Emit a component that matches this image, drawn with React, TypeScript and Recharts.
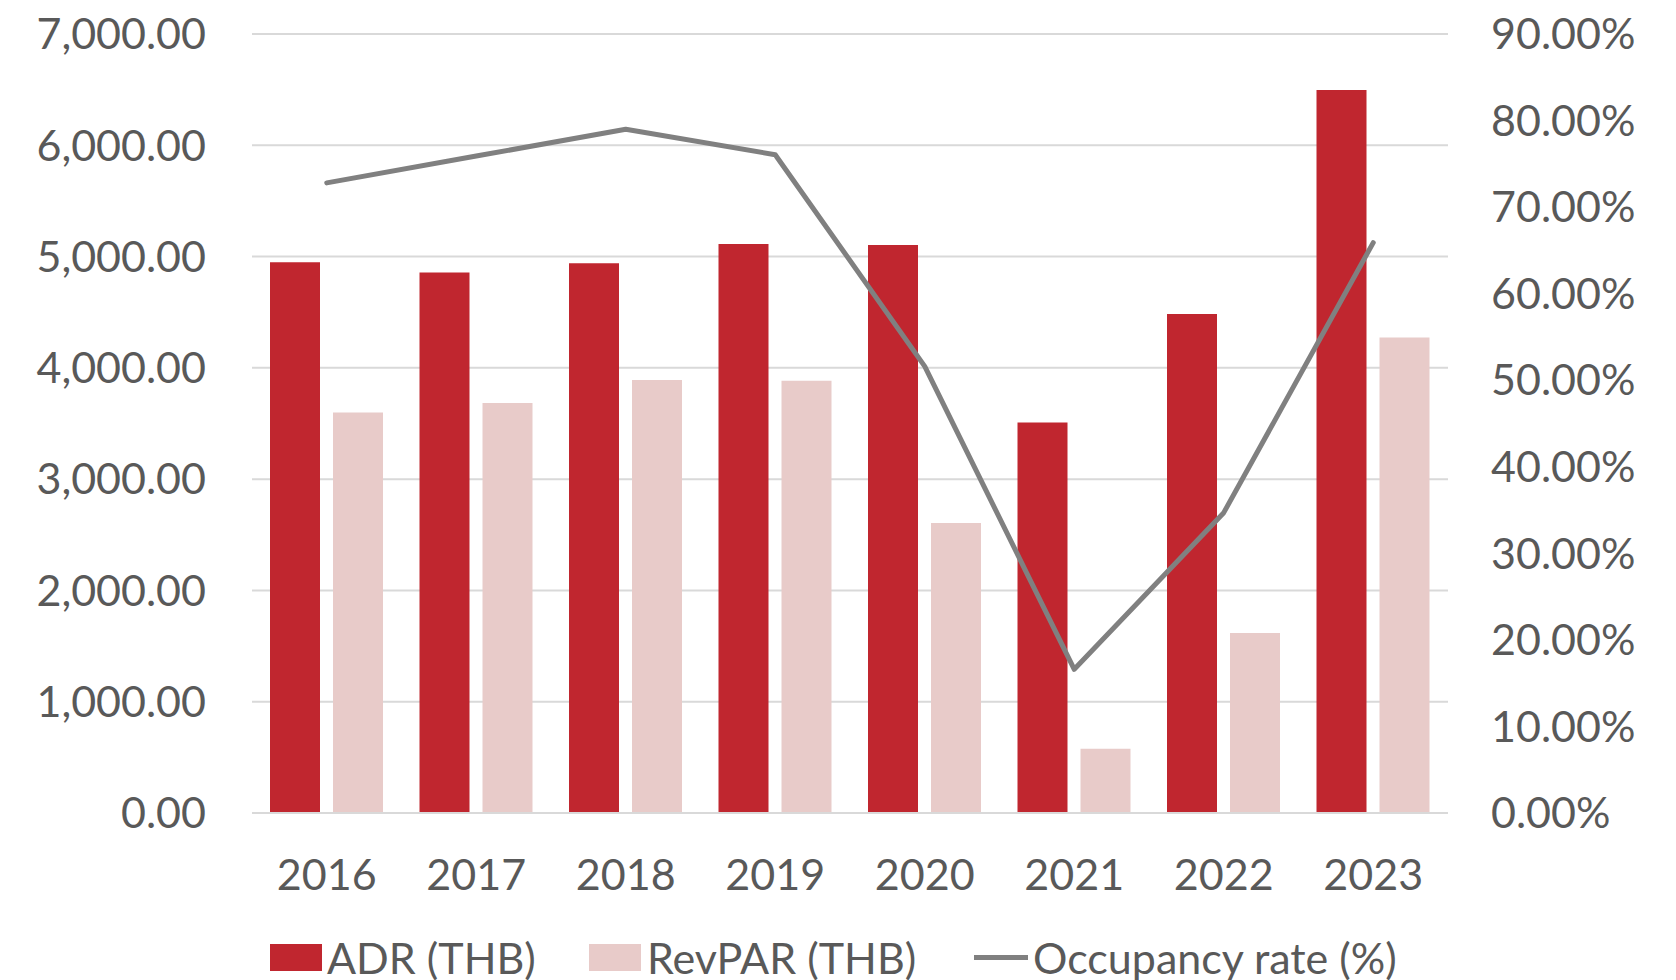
import React from "react";
import { ComposedChart, Bar, Line, XAxis, YAxis, CartesianGrid } from "recharts";

const years = ["2016", "2017", "2018", "2019", "2020", "2021", "2022", "2023"];
const adr = [4950, 4857, 4941, 5112, 5103, 3509, 4483, 6496];
const revpar = [3599, 3684, 3890, 3884, 2606, 578, 1617, 4273];
const occupancy = [72.8, 75.9, 79.0, 76.05, 51.6, 16.6, 34.7, 65.9];
const leftTicks = [0, 1000, 2000, 3000, 4000, 5000, 6000, 7000];
const rightTicks = [0, 10, 20, 30, 40, 50, 60, 70, 80, 90];

const data = years.map((y, i) => ({ year: y, adr: adr[i], revpar: revpar[i], occ: occupancy[i] }));

const FONT = "Lato, 'Open Sans', sans-serif";
const FS = 43;
const TXT = "#595959";
const RED = "#C0262F";
const PINK = "#E8CBC9";
const GREY = "#808080";
const GRID = "#D9D9D9";

const fmtLeft = (v: number) =>
  v.toLocaleString("en-US", { minimumFractionDigits: 2, maximumFractionDigits: 2 });
const fmtRight = (v: number) => `${v.toFixed(2)}%`;

const tickStyle = { fontFamily: FONT, fontSize: FS, fill: TXT };

function LegendOverlay() {
  const txt: React.CSSProperties = {
    position: "absolute",
    top: 957,
    transform: "translateY(-50%)",
    fontFamily: FONT,
    fontSize: FS,
    color: TXT,
    whiteSpace: "nowrap",
    lineHeight: 1,
  };
  return (
    <>
      <div style={{ position: "absolute", left: 270, top: 944, width: 52, height: 27, background: RED }} />
      <div style={{ ...txt, left: 327 }}>ADR (THB)</div>
      <div style={{ position: "absolute", left: 589, top: 944, width: 52, height: 27, background: PINK }} />
      <div style={{ ...txt, left: 647 }}>RevPAR (THB)</div>
      <div style={{ position: "absolute", left: 974, top: 955, width: 54, height: 5, background: GREY }} />
      <div style={{ ...txt, left: 1033 }}>Occupancy rate (%)</div>
    </>
  );
}

export default function App() {
  return (
    <div style={{ position: "absolute", left: 0, top: 0, width: 1676, height: 980, background: "#fff" }}>
      <ComposedChart
        width={1676}
        height={980}
        data={data}
        margin={{ top: 34, right: 0, bottom: 107, left: 0 }}
        barCategoryGap={18}
        barGap={13}
      >
        <CartesianGrid vertical={false} stroke={GRID} strokeWidth={2} yAxisId="left" />
        <XAxis
          dataKey="year"
          tickLine={false}
          axisLine={{ stroke: GRID, strokeWidth: 2 }}
          tick={tickStyle}
          tickSize={0}
          tickMargin={46}
          height={60}
        />
        <YAxis
          yAxisId="left"
          orientation="left"
          domain={[0, 7000]}
          ticks={leftTicks}
          tickFormatter={fmtLeft}
          axisLine={false}
          tickLine={false}
          tickSize={0}
          tickMargin={46}
          width={252}
          tick={tickStyle}
          interval={0}
        />
        <YAxis
          yAxisId="right"
          orientation="right"
          domain={[0, 90]}
          ticks={rightTicks}
          tickFormatter={fmtRight}
          axisLine={false}
          tickLine={false}
          tickSize={0}
          tickMargin={43}
          width={228}
          tick={{ ...tickStyle, textAnchor: "start" }}
          interval={0}
        />
        <Bar yAxisId="left" dataKey="adr" fill={RED} isAnimationActive={false} />
        <Bar yAxisId="left" dataKey="revpar" fill={PINK} isAnimationActive={false} />
        <Line
          yAxisId="right"
          dataKey="occ"
          stroke={GREY}
          strokeWidth={5}
          dot={false}
          activeDot={false}
          type="linear"
          strokeLinecap="round"
          strokeLinejoin="round"
          isAnimationActive={false}
        />
      </ComposedChart>
      <LegendOverlay />
    </div>
  );
}
